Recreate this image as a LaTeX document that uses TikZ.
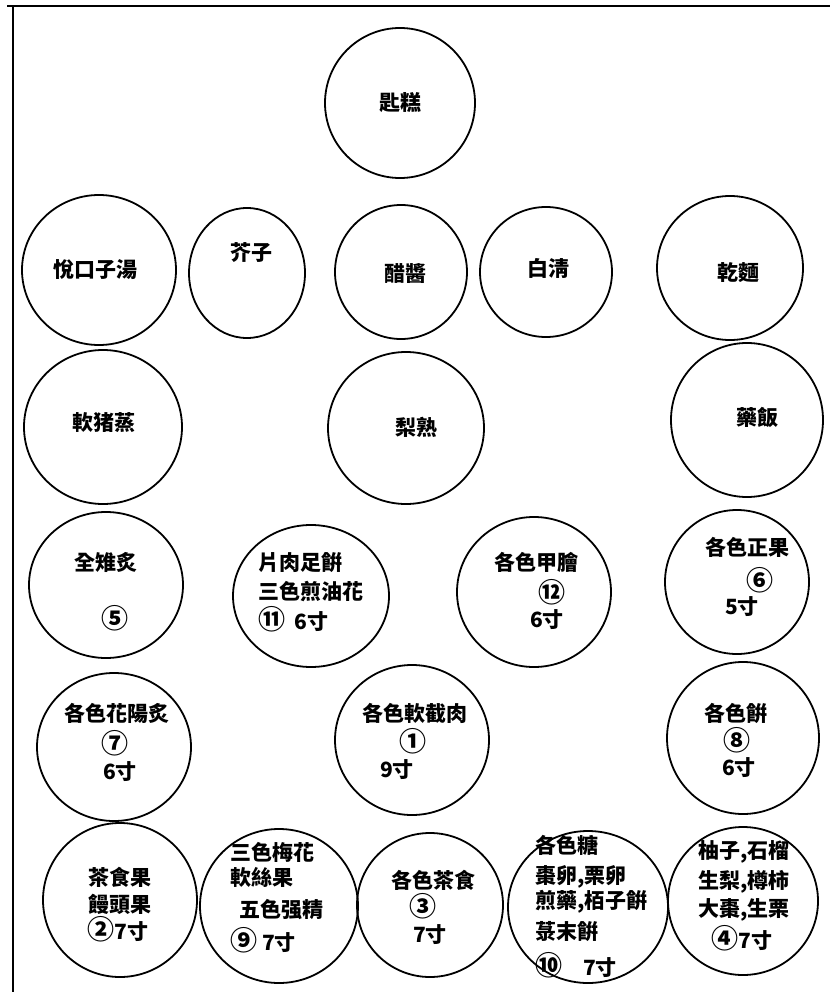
\documentclass[tikz,border=0pt]{standalone}
\usepackage{fontspec}
\newfontfamily\cjk{Noto Sans CJK TC}
\usepackage{tikz}
\newcommand\circnum[1]{{\fontsize{27}{27}\selectfont #1}}
\tikzset{
	dish/.style={font=\cjk\bfseries\fontsize{21}{24}\selectfont, inner sep=0pt},
	plate/.style={line width=1.8pt}
}

\begin{document}
\begin{tikzpicture}[x=1pt, y=-1pt]
		%%%%% START %%%%%
		\useasboundingbox (0, 0) rectangle (830, 992);
		
		\draw[line width=2pt] (7, 6) -- (830, 6);
		\draw[line width=2pt] (13, 6) -- (13, 992);
		
		% top
		\draw[plate] (400, 103) ellipse (75pt and 75pt);
		\node[dish] (gao) at (400, 103) {匙糕};
		
		% second row
		\draw[plate] (99, 270) ellipse (77pt and 75pt);
		\node[dish] (tang) at (95, 270) {悅口子湯};
		\draw[plate] (247, 273) ellipse (58pt and 65pt);
		\node[dish] (jiezi) at (251, 253) {芥子};
		\draw[plate] (401, 272) ellipse (66pt and 67pt);
		\node[dish] (cujiang) at (405, 273) {醋醬};
		\draw[plate] (546, 272) ellipse (66pt and 65pt);
		\node[dish] (baiqing) at (548, 268) {白淸};
		\draw[plate] (730, 268) ellipse (73pt and 72pt);
		\node[dish] (ganmian) at (738, 273) {乾麵};
		
		% third row
		\draw[plate] (103, 427) ellipse (79pt and 77pt);
		\node[dish] (zhuzheng) at (104, 423) {軟猪蒸};
		\draw[plate] (406, 428) ellipse (78pt and 76pt);
		\node[dish] (lishu) at (416, 427) {梨熟};
		\draw[plate] (747, 420) ellipse (76pt and 77pt);
		\node[dish] (yaofan) at (757, 417) {藥飯};
		
		% fourth row
		\draw[plate] (106, 585) ellipse (77pt and 73pt);
		\node[dish] (zhizhi) at (106, 562) {全雉炙};
		\node[dish] (n5) at (115, 618) {\circnum{⑤}};
		
		\draw[plate] (311, 596) ellipse (78pt and 71pt);
		\node[dish, anchor=west] (pianrou) at (258, 563) {片肉足餠};
		\node[dish, anchor=west] (jianyou) at (258, 592) {三色煎油花};
		\node[dish, anchor=west] (n11) at (258, 619) {\circnum{⑪}\ \ 6寸};
		
		\draw[plate] (534, 592) ellipse (77pt and 75pt);
		\node[dish] (jiahui) at (536, 562) {各色甲膾};
		\node[dish] (n12) at (552, 592) {\circnum{⑫}};
		\node[dish] (s12) at (547, 620) {6寸};
		
		\draw[plate] (737, 582) ellipse (72pt and 72pt);
		\node[dish] (zhengguo) at (747, 547) {各色正果};
		\node[dish] (n6) at (760, 580) {\circnum{⑥}};
		\node[dish] (s6) at (742, 607) {5寸};
		
		% fifth row
		\draw[plate] (114, 747) ellipse (77pt and 74pt);
		\node[dish] (huayang) at (117, 713) {各色花陽炙};
		\node[dish] (n7) at (115, 743) {\circnum{⑦}};
		\node[dish] (s7) at (120, 772) {6寸};
		
		\draw[plate] (412, 740) ellipse (77pt and 75pt);
		\node[dish] (jierou) at (415, 713) {各色軟截肉};
		\node[dish] (n1) at (413, 741) {\circnum{①}};
		\node[dish] (s1) at (397, 770) {9寸};
		
		\draw[plate] (743, 738) ellipse (76pt and 76pt);
		\node[dish] (bing) at (736, 713) {各色餠};
		\node[dish] (n8) at (737, 740) {\circnum{⑧}};
		\node[dish] (s8) at (739, 768) {6寸};
		
		% last row
		\draw[plate] (120, 900) ellipse (77pt and 77pt);
		\node[dish] (chashi) at (120, 877) {茶食果};
		\node[dish] (mantou) at (120, 904) {饅頭果};
		\node[dish] (n2) at (118, 929) {\circnum{②}7寸};
		
		\draw[plate] (279, 906) ellipse (79pt and 77pt);
		\node[dish, anchor=west] (meihua) at (230, 852) {三色梅花};
		\node[dish, anchor=west] (ruansi) at (230, 877) {軟絲果};
		\node[dish] (qiangjing) at (281, 910) {五色强精};
		\node[dish, anchor=west] (n9) at (230, 940) {\circnum{⑨}\ 7寸};
		
		\draw[plate] (430, 905) ellipse (73pt and 72pt);
		\node[dish] (chashi2) at (433, 880) {各色茶食};
		\node[dish] (n3) at (423, 906) {\circnum{③}};
		\node[dish] (s3) at (430, 935) {7寸};
		
		\draw[plate] (588, 907) ellipse (80pt and 76pt);
		\node[dish, anchor=west] (tang2) at (535, 845) {各色糖};
		\node[dish, anchor=west] (zaoluan) at (535, 877) {棗卵,栗卵};
		\node[dish, anchor=west] (jianyao) at (535, 902) {煎藥,栢子餠};
		\node[dish, anchor=west] (lumo) at (535, 932) {菉末餠};
		\node[dish, anchor=west] (n10) at (535, 965) {\circnum{⑩}\quad 7寸};
		
		\draw[plate] (743, 901) ellipse (75pt and 74pt);
		\node[dish, anchor=west] (youzi) at (698, 852) {柚子,石榴};
		\node[dish, anchor=west] (shengli) at (698, 882) {生梨,樽柿};
		\node[dish, anchor=west] (dazao) at (698, 910) {大棗,生栗};
		\node[dish] (n4) at (742, 938) {\circnum{④}7寸};
		
		%%%%% END %%%%%
	\end{tikzpicture}
\end{document}
